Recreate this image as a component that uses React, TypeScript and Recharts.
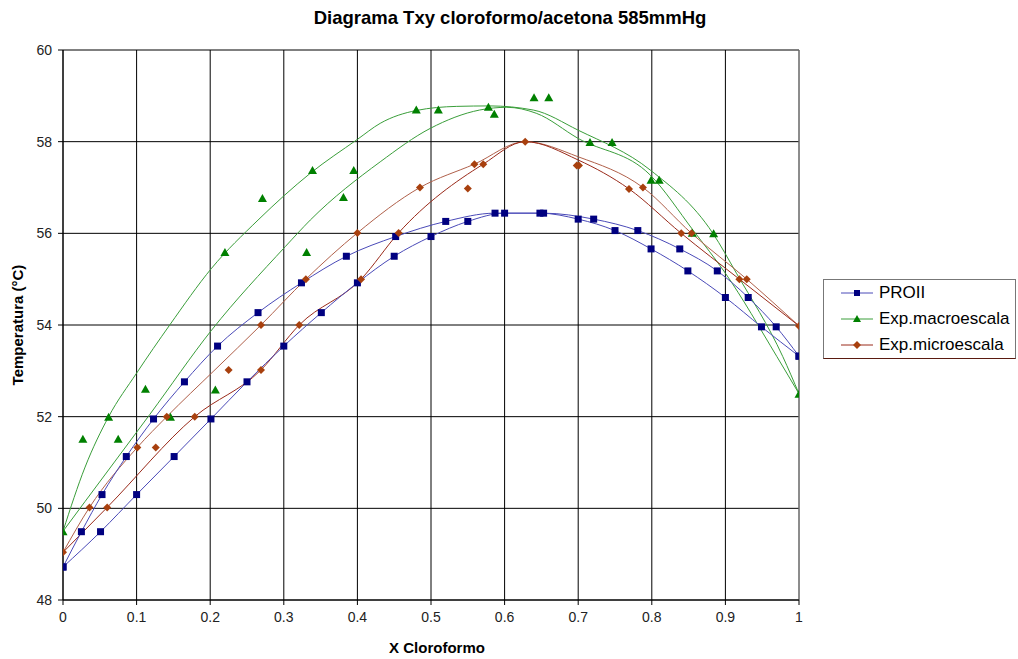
import {
  ComposedChart,
  Line,
  Scatter,
  XAxis,
  YAxis,
  CartesianGrid,
  ReferenceLine,
} from 'recharts'

const FONT = '"Liberation Sans", Arial, sans-serif'

const xTicks = [0, 0.1, 0.2, 0.3, 0.4, 0.5, 0.6, 0.7, 0.8, 0.9, 1]
const yTicks = [48, 50, 52, 54, 56, 58, 60]

// PROII simulation: dew and bubble branches
const proiiDew = [
  { x: 0, t: 48.72 }, { x: 0.025, t: 49.49 }, { x: 0.053, t: 50.3 }, { x: 0.086, t: 51.13 },
  { x: 0.123, t: 51.95 }, { x: 0.165, t: 52.76 }, { x: 0.21, t: 53.54 }, { x: 0.265, t: 54.27 },
  { x: 0.324, t: 54.92 }, { x: 0.385, t: 55.5 }, { x: 0.452, t: 55.93 }, { x: 0.52, t: 56.26 },
  { x: 0.587, t: 56.44 }, { x: 0.653, t: 56.44 }, { x: 0.721, t: 56.31 }, { x: 0.781, t: 56.06 },
  { x: 0.838, t: 55.66 }, { x: 0.889, t: 55.18 }, { x: 0.931, t: 54.6 }, { x: 0.969, t: 53.96 },
  { x: 1, t: 53.32 },
]
const proiiBubble = [
  { x: 0, t: 48.72 }, { x: 0.051, t: 49.49 }, { x: 0.1, t: 50.3 }, { x: 0.151, t: 51.13 },
  { x: 0.201, t: 51.95 }, { x: 0.25, t: 52.76 }, { x: 0.3, t: 53.54 }, { x: 0.351, t: 54.27 },
  { x: 0.4, t: 54.92 }, { x: 0.45, t: 55.5 }, { x: 0.5, t: 55.93 }, { x: 0.55, t: 56.26 },
  { x: 0.6, t: 56.44 }, { x: 0.648, t: 56.44 }, { x: 0.7, t: 56.31 }, { x: 0.75, t: 56.06 },
  { x: 0.799, t: 55.66 }, { x: 0.849, t: 55.18 }, { x: 0.9, t: 54.6 }, { x: 0.949, t: 53.96 },
  { x: 1, t: 53.32 },
]

// macroescala measurements and smoothed curves
const macroPoints = [
  { x: 0, t: 49.49 }, { x: 0.027, t: 51.51 }, { x: 0.062, t: 51.99 }, { x: 0.075, t: 51.51 },
  { x: 0.112, t: 52.6 }, { x: 0.146, t: 51.99 }, { x: 0.207, t: 52.58 }, { x: 0.22, t: 55.58 },
  { x: 0.271, t: 56.76 }, { x: 0.331, t: 55.58 }, { x: 0.339, t: 57.37 }, { x: 0.381, t: 56.78 },
  { x: 0.395, t: 57.37 }, { x: 0.48, t: 58.69 }, { x: 0.51, t: 58.69 }, { x: 0.578, t: 58.75 },
  { x: 0.586, t: 58.6 }, { x: 0.64, t: 58.96 }, { x: 0.66, t: 58.96 }, { x: 0.716, t: 57.98 },
  { x: 0.746, t: 57.98 }, { x: 0.799, t: 57.16 }, { x: 0.81, t: 57.16 }, { x: 0.855, t: 56.0 },
  { x: 0.884, t: 55.99 }, { x: 1, t: 52.49 },
]
const macroUpper = [
  { x: 0, t: 49.5 }, { x: 0.03, t: 50.9 }, { x: 0.062, t: 52.0 }, { x: 0.1, t: 52.95 },
  { x: 0.145, t: 54.0 }, { x: 0.202, t: 55.24 }, { x: 0.265, t: 56.29 }, { x: 0.336, t: 57.31 },
  { x: 0.4, t: 58.05 }, { x: 0.431, t: 58.4 }, { x: 0.48, t: 58.68 }, { x: 0.535, t: 58.77 },
  { x: 0.58, t: 58.78 }, { x: 0.639, t: 58.69 }, { x: 0.7, t: 58.25 }, { x: 0.798, t: 57.38 },
  { x: 0.883, t: 56.0 }, { x: 0.915, t: 55.13 }, { x: 0.978, t: 53.31 }, { x: 1, t: 52.5 },
]
const macroLower = [
  { x: 0, t: 49.5 }, { x: 0.03, t: 50.15 }, { x: 0.118, t: 52.05 }, { x: 0.202, t: 53.89 },
  { x: 0.302, t: 55.71 }, { x: 0.336, t: 56.29 }, { x: 0.431, t: 57.56 }, { x: 0.499, t: 58.29 },
  { x: 0.566, t: 58.69 }, { x: 0.603, t: 58.75 }, { x: 0.643, t: 58.62 }, { x: 0.7, t: 58.07 },
  { x: 0.798, t: 57.27 }, { x: 0.856, t: 56.07 }, { x: 0.9, t: 55.13 }, { x: 0.97, t: 53.31 },
  { x: 1, t: 52.5 },
]

// microescala measurements and smoothed curves
const microPoints = [
  { x: 0, t: 49.04 }, { x: 0.036, t: 50.02 }, { x: 0.06, t: 50.02 }, { x: 0.101, t: 51.33 },
  { x: 0.126, t: 51.33 }, { x: 0.141, t: 52.0 }, { x: 0.179, t: 52.0 }, { x: 0.225, t: 53.02 },
  { x: 0.269, t: 53.02 }, { x: 0.269, t: 54.0 }, { x: 0.321, t: 54.0 }, { x: 0.33, t: 55.0 },
  { x: 0.405, t: 55.0 }, { x: 0.4, t: 56.01 }, { x: 0.456, t: 56.01 }, { x: 0.485, t: 57.0 },
  { x: 0.55, t: 56.98 }, { x: 0.559, t: 57.51 }, { x: 0.571, t: 57.51 }, { x: 0.628, t: 58.0 },
  { x: 0.698, t: 57.48 }, { x: 0.701, t: 57.48 }, { x: 0.769, t: 56.97 }, { x: 0.788, t: 57.0 },
  { x: 0.84, t: 56.0 }, { x: 0.854, t: 56.0 }, { x: 0.919, t: 55.0 }, { x: 0.929, t: 55.0 },
  { x: 1, t: 53.98 },
]
const microUpper = [
  { x: 0, t: 49.04 }, { x: 0.036, t: 50.02 }, { x: 0.101, t: 51.33 }, { x: 0.141, t: 52.0 },
  { x: 0.205, t: 53.0 }, { x: 0.269, t: 54.0 }, { x: 0.33, t: 55.0 }, { x: 0.4, t: 56.01 },
  { x: 0.485, t: 57.0 }, { x: 0.559, t: 57.51 }, { x: 0.628, t: 58.0 }, { x: 0.7, t: 57.67 },
  { x: 0.788, t: 57.0 }, { x: 0.854, t: 56.0 }, { x: 0.929, t: 55.0 }, { x: 1, t: 53.98 },
]
const microLower = [
  { x: 0, t: 49.04 }, { x: 0.06, t: 50.02 }, { x: 0.179, t: 52.0 }, { x: 0.269, t: 53.02 },
  { x: 0.321, t: 54.0 }, { x: 0.405, t: 55.0 }, { x: 0.456, t: 56.01 }, { x: 0.571, t: 57.51 },
  { x: 0.628, t: 58.0 }, { x: 0.7, t: 57.6 }, { x: 0.769, t: 56.97 }, { x: 0.84, t: 56.0 },
  { x: 0.919, t: 55.0 }, { x: 1, t: 53.98 },
]

const BLUE_LINE = '#4a4ab8'
const BLUE_MARK = '#000080'
const GREEN_LINE = '#3a9e3a'
const GREEN_MARK = '#008000'
const RED_LINE = '#9a2a1a'
const RED_MARK = '#a8400e'

const legendItems = [
  { name: 'PROII', line: BLUE_LINE, mark: BLUE_MARK, shape: 'square' },
  { name: 'Exp.macroescala', line: GREEN_LINE, mark: GREEN_MARK, shape: 'triangle' },
  { name: 'Exp.microescala', line: RED_LINE, mark: RED_MARK, shape: 'diamond' },
]

function squareDot(props: any) {
  const { cx, cy, index } = props
  return <rect key={`sq-${index}`} x={cx - 3.5} y={cy - 3.5} width={7} height={7} fill={BLUE_MARK} />
}

function triangleShape(props: any) {
  const { cx, cy } = props
  return <polygon points={`${cx},${cy - 4.5} ${cx + 4.5},${cy + 3.5} ${cx - 4.5},${cy + 3.5}`} fill={GREEN_MARK} />
}

function diamondShape(props: any) {
  const { cx, cy } = props
  return <polygon points={`${cx},${cy - 4} ${cx + 4},${cy} ${cx},${cy + 4} ${cx - 4},${cy}`} fill={RED_MARK} />
}

function LegendMarker({ shape, color }: { shape: string; color: string }) {
  if (shape === 'square') return <rect x={13} y={3} width={6} height={6} fill={color} />
  if (shape === 'triangle') return <polygon points="16,2 20,9 12,9" fill={color} />
  return <polygon points="16,2 20,6 16,10 12,6" fill={color} />
}

const tickStyle = { fill: '#222', fontSize: 14, fontFamily: FONT }

export default function App() {
  return (
    <div style={{ position: 'absolute', left: 0, top: 0, width: 1018, height: 659, background: '#fff', fontFamily: FONT }}>
      <div style={{ position: 'absolute', left: 0, width: 1020, top: 6, textAlign: 'center', fontSize: 18.5, lineHeight: '24px', fontWeight: 'bold', color: '#000' }}>
        Diagrama Txy cloroformo/acetona 585mmHg
      </div>

      <ComposedChart width={1018} height={659} margin={{ top: 50, right: 219, bottom: 0, left: 0 }}>
        <CartesianGrid stroke="#000" strokeWidth={1} />
        <XAxis
          dataKey="x"
          type="number"
          domain={[0, 1]}
          ticks={xTicks}
          height={59}
          tickSize={5}
          tickMargin={7}
          tick={tickStyle}
          tickFormatter={(v: number) => String(v)}
          axisLine={{ stroke: '#000' }}
          tickLine={{ stroke: '#000' }}
          allowDataOverflow
        />
        <YAxis
          type="number"
          domain={[48, 60]}
          ticks={yTicks}
          width={63}
          tickSize={5}
          tickMargin={6}
          tick={tickStyle}
          axisLine={{ stroke: '#000' }}
          tickLine={{ stroke: '#000' }}
          allowDataOverflow
        />
        <ReferenceLine x={1} stroke="#9a9a9a" />

        <Line data={macroUpper} dataKey="t" type="monotone" stroke={GREEN_LINE} strokeWidth={1} dot={false} legendType="none" isAnimationActive={false} />
        <Line data={macroLower} dataKey="t" type="monotone" stroke={GREEN_LINE} strokeWidth={1} dot={false} legendType="none" isAnimationActive={false} />
        <Line data={microUpper} dataKey="t" type="monotone" stroke="#b0604a" strokeWidth={1} dot={false} legendType="none" isAnimationActive={false} />
        <Line data={microLower} dataKey="t" type="monotone" stroke={RED_LINE} strokeWidth={1} dot={false} legendType="none" isAnimationActive={false} />
        <Line data={proiiDew} dataKey="t" type="monotone" stroke={BLUE_LINE} strokeWidth={1} dot={squareDot} activeDot={false} legendType="none" isAnimationActive={false} />
        <Line data={proiiBubble} dataKey="t" type="monotone" stroke={BLUE_LINE} strokeWidth={1} dot={squareDot} activeDot={false} legendType="none" isAnimationActive={false} />

        <Scatter data={macroPoints} dataKey="t" shape={triangleShape} legendType="none" isAnimationActive={false} />
        <Scatter data={microPoints} dataKey="t" shape={diamondShape} legendType="none" isAnimationActive={false} />
      </ComposedChart>

      <div style={{ position: 'absolute', left: 437 - 100, width: 200, top: 639, textAlign: 'center', fontSize: 15, lineHeight: '18px', fontWeight: 'bold', color: '#000' }}>
        X Cloroformo
      </div>
      <div style={{ position: 'absolute', left: 18 - 100, top: 325 - 9, width: 200, textAlign: 'center', fontSize: 15, fontWeight: 'bold', color: '#000', transform: 'rotate(-90deg)', lineHeight: '18px' }}>
        Temperatura (°C)
      </div>

      <div style={{ position: 'absolute', left: 823, top: 279, width: 193, height: 80, border: '1px solid #777', borderBottom: '1px solid #5a1a10', boxSizing: 'border-box', background: '#fff' }}>
        {legendItems.map((item, i) => (
          <div key={item.name} style={{ position: 'absolute', left: 17, top: 3 + i * 26, height: 20, display: 'flex', alignItems: 'center' }}>
            <svg width={34} height={12} style={{ marginRight: 4 }}>
              <line x1={0} y1={6} x2={32} y2={6} stroke={item.line} strokeWidth={1} />
              <LegendMarker shape={item.shape} color={item.mark} />
            </svg>
            <span style={{ fontSize: 17, lineHeight: '20px', color: '#000' }}>{item.name}</span>
          </div>
        ))}
      </div>
    </div>
  )
}
